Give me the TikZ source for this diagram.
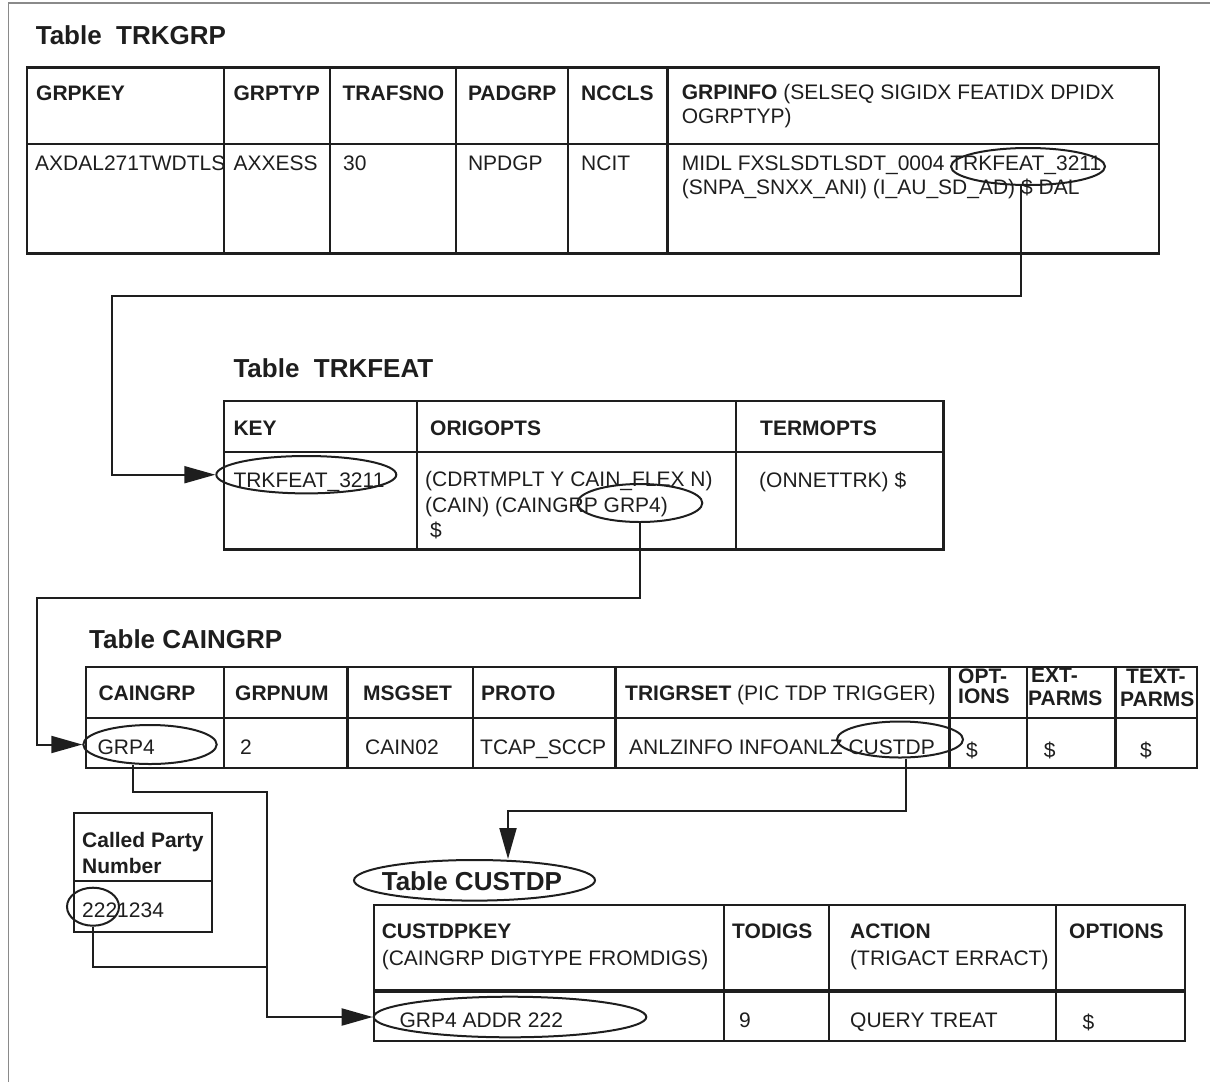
\documentclass[tikz,border=0pt]{standalone}
\usepackage{fontspec}
\setmainfont{Liberation Sans}
\usetikzlibrary{arrows.meta,shapes.geometric}
\definecolor{ink}{HTML}{1E1E1E}
\definecolor{framegray}{HTML}{8A8A8A}

\begin{document}
\begin{tikzpicture}[x=1pt,y=-1pt,
  tbl/.style={draw=ink,line width=2.4pt,line join=miter},
  link/.style={draw=ink,line width=2pt},
  conn/.style={link,-{Triangle[length=31pt,width=17pt]}},
  oval/.style={ellipse,draw=ink,line width=2pt,inner sep=0pt},
  txt/.style={anchor=base west,inner sep=0pt,text=ink,font=\fontsize{21}{25}\selectfont},
  hdr/.style={txt,font=\fontsize{21}{25}\selectfont\bfseries},
  ttl/.style={txt,font=\fontsize{26}{30}\selectfont\bfseries}]

\useasboundingbox (0,0) rectangle (1210,1082);

% page frame
\draw[framegray,line width=1.3pt] (8.5,1082) -- (8.5,3) -- (1210,3);

% ---------------- Table TRKGRP ----------------
\node[ttl] (t1) at (35.6,44) {Table~~TRKGRP};
\draw[tbl] (27,67.5) rectangle (1159,253.5);
\draw[tbl] (27,144) -- (1159,144);
\foreach \x in {224,330,456,568,667.3} \draw[tbl] (\x,67.5) -- (\x,253.5);

\node[hdr] (h11) at (36,100) {GRPKEY};
\node[hdr] (h12) at (233.3,100) {GRPTYP};
\node[hdr] (h13) at (342.4,100) {TRAFSNO};
\node[hdr] (h14) at (467.8,100) {PADGRP};
\node[hdr] (h15) at (581,100) {NCCLS};
\node[txt] (h16) at (681.7,99) {\textbf{GRPINFO} (SELSEQ SIGIDX FEATIDX DPIDX};
\node[txt] (h17) at (681.7,123) {OGRPTYP)};

\node[txt] (r11) at (35,170) {AXDAL271TWDTLS};
\node[txt] (r12) at (233.3,170) {AXXESS};
\node[txt] (r13) at (343,170) {30};
\node[txt] (r14) at (467.8,170) {NPDGP};
\node[txt] (r15) at (581,170) {NCIT};
\node[txt] (r16) at (681.7,170) {MIDL FXSLSDTLSDT\_0004 TRKFEAT\_3211};
\node[txt] (r17) at (681.7,194) {(SNPA\_SNXX\_ANI) (I\_AU\_SD\_AD) \$ DAL};

% ---------------- Table TRKFEAT ----------------
\node[ttl] (t2) at (233.3,377) {Table~~TRKFEAT};
\draw[tbl] (224,401) rectangle (943.3,549.3);
\draw[tbl] (224,452) -- (943.3,452);
\foreach \x in {416.7,735.7} \draw[tbl] (\x,401) -- (\x,549.3);

\node[hdr] (h21) at (233.3,435) {KEY};
\node[hdr] (h22) at (430,435) {ORIGOPTS};
\node[hdr] (h23) at (760,435) {TERMOPTS};

\node[txt] (r21) at (233.3,487) {TRKFEAT\_3211};
\node[txt] (r22) at (425,486) {(CDRTMPLT Y CAIN\_FLEX N)};
\node[txt] (r23) at (425,512) {(CAIN) (CAINGRP GRP4)};
\node[txt] (r24) at (430,537) {\$};
\node[txt] (r25) at (759,487) {(ONNETTRK) \$};

% ---------------- Table CAINGRP ----------------
\node[ttl] (t3) at (89,648) {Table CAINGRP};
\draw[tbl] (85.7,667) rectangle (1197,768);
\draw[tbl] (85.7,718) -- (1197,718);
\foreach \x in {224,347.3,472.7,615.6,949.4,1027,1115.6} \draw[tbl] (\x,667) -- (\x,768);

\node[hdr] (h31) at (98.3,700) {CAINGRP};
\node[hdr] (h32) at (235,700) {GRPNUM};
\node[hdr] (h33) at (363,700) {MSGSET};
\node[hdr] (h34) at (481,700) {PROTO};
\node[txt] (h35) at (625,700) {\textbf{TRIGRSET} (PIC TDP TRIGGER)};
\node[hdr] (h36) at (958,683) {OPT-};
\node[hdr] (h37) at (958,703) {IONS};
\node[hdr] (h38) at (1031,682) {EXT-};
\node[hdr] (h39) at (1028,705) {PARMS};
\node[hdr] (h3a) at (1126,683) {TEXT-};
\node[hdr] (h3b) at (1120,706) {PARMS};

\node[txt] (r31) at (97.3,754) {GRP4};
\node[txt] (r32) at (240,754) {2};
\node[txt] (r33) at (365,754) {CAIN02};
\node[txt] (r34) at (480,754) {TCAP\_SCCP};
\node[txt] (r35) at (629,754) {ANLZINFO INFOANLZ CUSTDP};
\node[txt] (r36) at (966,757) {\$};
\node[txt] (r37) at (1043.6,757) {\$};
\node[txt] (r38) at (1140,757) {\$};

% ---------------- Called Party Number ----------------
\draw[tbl] (74,813) rectangle (212,932);
\draw[tbl] (74,881) -- (212,881);
\node[hdr] (h41) at (82,847) {Called Party};
\node[hdr] (h42) at (82,873) {Number};
\node[txt] (r41) at (82,917) {2221234};

% ---------------- Table CUSTDP ----------------
\node[ttl] (t4) at (381.6,890) {Table CUSTDP};
\draw[tbl] (373.7,905) rectangle (1185,1041);
\draw[tbl,line width=3.5pt] (373.7,991) -- (1185,991);
\foreach \x in {723.7,828.8,1056} \draw[tbl] (\x,905) -- (\x,1041);

\node[hdr] (h51) at (381.6,938) {CUSTDPKEY};
\node[txt] (h52) at (381.6,965) {(CAINGRP DIGTYPE FROMDIGS)};
\node[hdr] (h53) at (732,938) {TODIGS};
\node[hdr] (h54) at (850,938) {ACTION};
\node[txt] (h55) at (850,965) {(TRIGACT ERRACT)};
\node[hdr] (h56) at (1069,938) {OPTIONS};

\node[txt] (r51) at (399.4,1027) {GRP4 ADDR 222};
\node[txt] (r52) at (739,1027) {9};
\node[txt] (r53) at (850,1027) {QUERY TREAT};
\node[txt] (r54) at (1082.5,1029) {\$};

% ---------------- highlighted values ----------------
\node[oval,minimum width=154pt,minimum height=37pt] (e1) at (1028,166.5) {};
\node[oval,minimum width=180pt,minimum height=37.4pt] (e2) at (306.3,474.7) {};
\node[oval,minimum width=125pt,minimum height=38pt] (e3) at (639.8,503) {};
\node[oval,minimum width=133.4pt,minimum height=39pt] (e4) at (150,744.5) {};
\node[oval,minimum width=126pt,minimum height=36pt] (e5) at (900,739.5) {};
\node[oval,minimum width=52pt,minimum height=38pt] (e6) at (93,906.7) {};
\node[oval,minimum width=272.6pt,minimum height=40.6pt] (e7) at (510,1017) {};
\node[oval,minimum width=241pt,minimum height=40.6pt] (e8) at (474.5,880.3) {};

% ---------------- connectors ----------------
\coordinate (k1) at (111.7,295.5);
\coordinate (k2) at (37.3,598.3);
\coordinate (k3) at (267.3,791.7);
\coordinate (k4) at (267.3,966.7);
\coordinate (k5) at (508,810.7);

\draw[conn] ([xshift=-7pt]e1.south) |- (k1) |- (e2.west);
\draw[conn] (e3.south) |- (k2) |- (e4.west);
\draw[conn] ([xshift=-17pt]e4.south) |- (k3) |- (e7.west);
\draw[link] (e6.south) |- (k4);
\draw[conn] ([xshift=6pt]e5.south) |- (k5) -- (k5 |- e8.north);

\end{tikzpicture}
\end{document}
